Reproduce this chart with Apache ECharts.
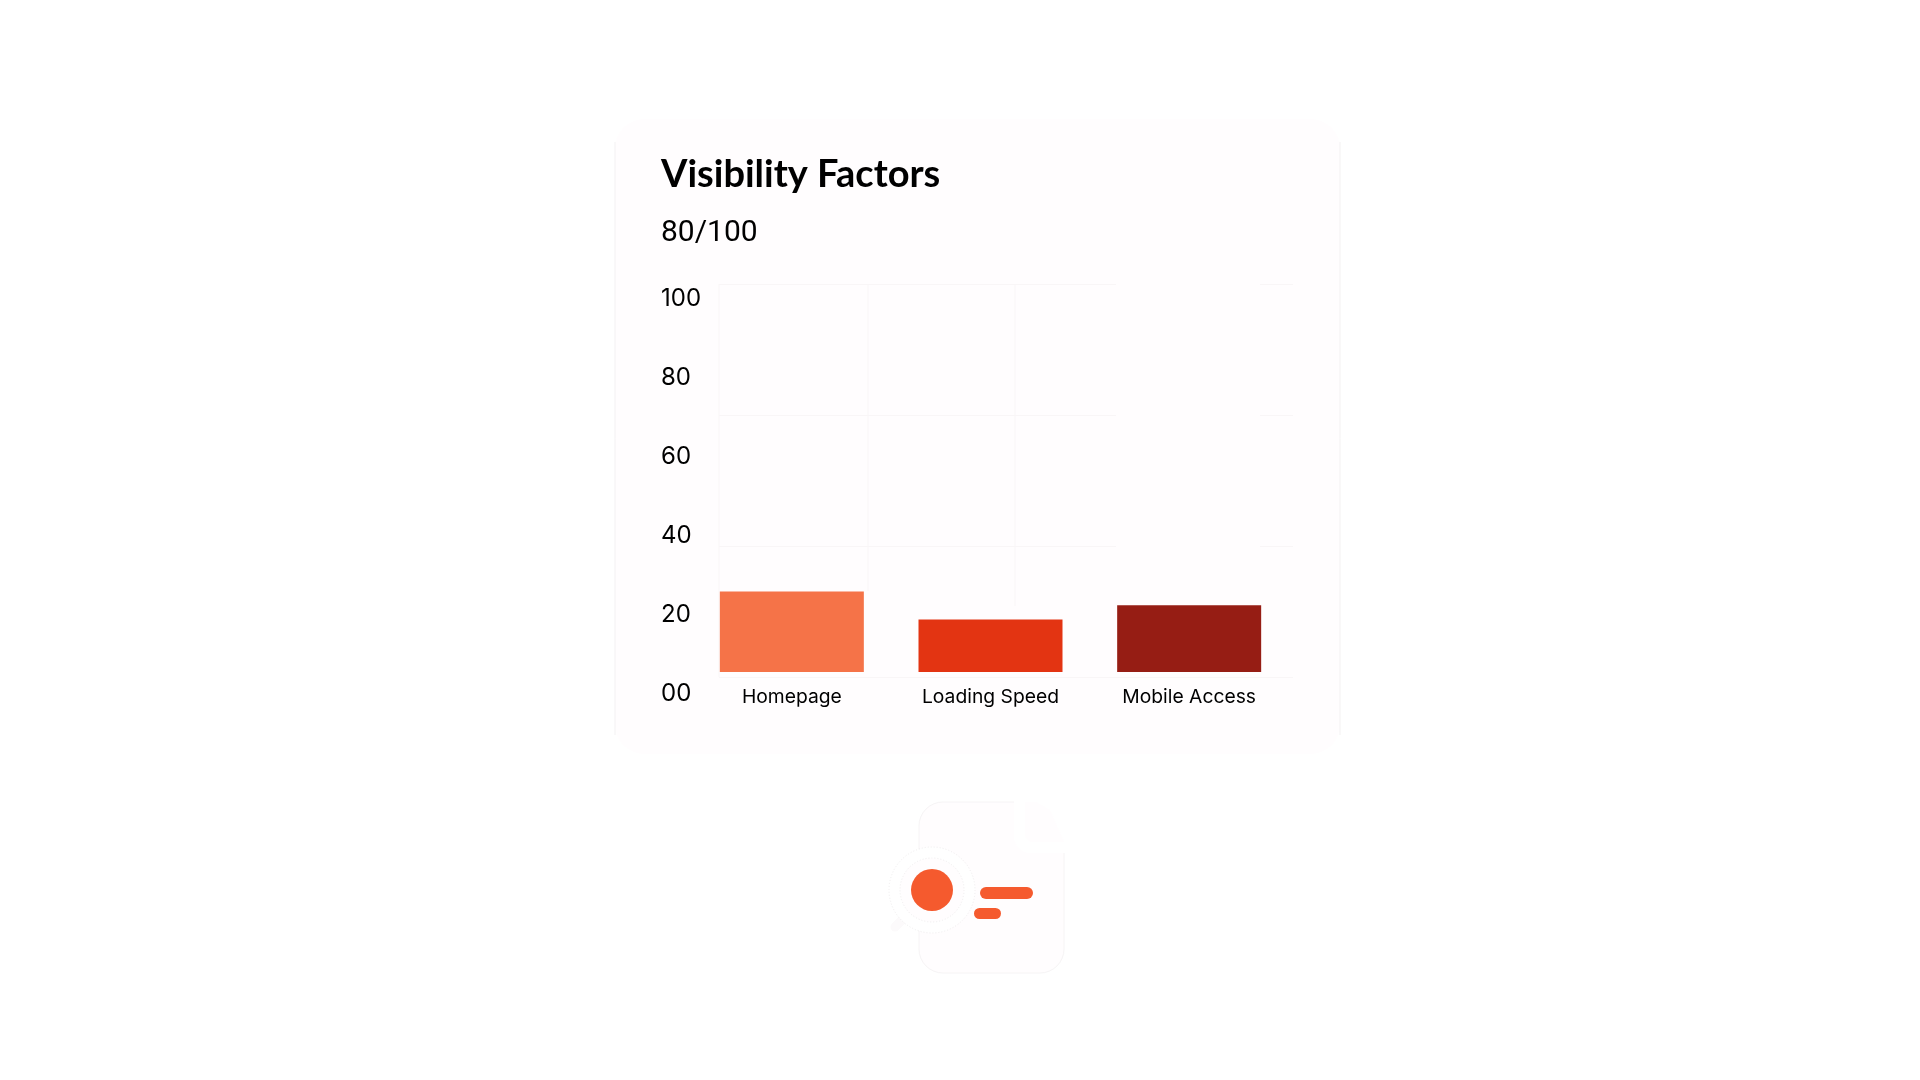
<!DOCTYPE html>
<html>
<head>
<meta charset="utf-8">
<title>Visibility Factors</title>
<script src="https://cdn.jsdelivr.net/npm/echarts@6/dist/echarts.min.js"></script>
<style>
  html, body { margin: 0; padding: 0; background: #fff; }
  #chart { width: 1920px; height: 1080px; }
</style>
</head>
<body>
<div id="chart"></div>
<script>
// values read against the printed tick labels
const categories = ['Homepage', 'Loading Speed', 'Mobile Access'];
const scores = [25.7, 18.6, 22.2];
const barColors = ['#f57348', '#e33412', '#961d14'];
const yTickLabels = ['00', '20', '40', '60', '80', '100'];

const cardFill = '#fffdfe';
const gridColor = '#f9f6f7';
const edgeColor = '#f3f1f2';
const iconOrange = '#f55a2e';

const chart = echarts.init(document.getElementById('chart'));

function vLine(x, y1, y2, color) {
  return { type: 'line', z: -1, silent: true, shape: { x1: x, y1: y1, x2: x, y2: y2 }, style: { stroke: color, lineWidth: 1 } };
}

const decorations = [
  // card
  { type: 'rect', z: -5, shape: { x: 615, y: 119, width: 725, height: 635, r: 30 }, style: { fill: cardFill } },
  vLine(615, 142, 735, edgeColor),
  vLine(1340, 142, 735, edgeColor),
  // vertical grid lines are not evenly spaced in the original
  vLine(719, 284, 677, gridColor),
  vLine(868, 284, 591, gridColor),
  vLine(1015, 284, 606, gridColor),
  // the horizontal lines break over the last column, except the base line
  { type: 'rect', z: 1, shape: { x: 1116, y: 278, width: 144, height: 320 }, style: { fill: cardFill } },

  // document + magnifier icon
  { type: 'rect', z: -5, shape: { x: 919, y: 802, width: 145, height: 171, r: 24 }, style: { fill: cardFill, stroke: '#f6f4f5', lineWidth: 1 } },
  { type: 'rect', z: -4, shape: { x: 1014, y: 796, width: 54, height: 57, r: [0, 0, 0, 16] }, style: { fill: '#fff' } },
  { type: 'polygon', z: -4, shape: { points: [[1025, 802], [1036, 802], [1050, 810], [1064, 842], [1030, 842], [1025, 836]] }, style: { fill: cardFill } },
  { type: 'line', z: -3, shape: { x1: 895, y1: 927, x2: 910, y2: 912 }, style: { stroke: '#fcfafb', lineWidth: 9, lineCap: 'round' } },
  { type: 'circle', z: -3, shape: { cx: 932, cy: 890, r: 43 }, style: { fill: '#fff', stroke: '#f0eeef', lineWidth: 1, lineDash: [1, 2] } },
  { type: 'circle', z: -2, shape: { cx: 932, cy: 890, r: 32 }, style: { fill: cardFill, stroke: '#f0eeef', lineWidth: 1, lineDash: [1, 2] } },
  { type: 'circle', z: -1, shape: { cx: 932, cy: 890, r: 21 }, style: { fill: iconOrange } },
  { type: 'rect', z: -1, shape: { x: 980, y: 887, width: 53, height: 12, r: 6 }, style: { fill: iconOrange } },
  { type: 'rect', z: -1, shape: { x: 974, y: 908, width: 27, height: 11, r: 5.5 }, style: { fill: iconOrange } }
];

const hidden = { show: false };

const option = {
  animation: false,
  backgroundColor: '#fff',
  textStyle: { fontFamily: 'Inter' },
  title: [
    { text: 'Visibility Factors', left: 661, top: 156, padding: 0,
      textStyle: { fontFamily: 'Lato', fontWeight: 700, fontSize: 38, color: '#000' } },
    { text: '80/100', left: 661, top: 218, padding: 0,
      textStyle: { fontFamily: 'Roboto', fontWeight: 400, fontSize: 30, color: '#000' } }
  ],
  graphic: { elements: decorations },
  grid: [
    // faint background lines
    { left: 719, width: 574, top: 284, height: 393 },
    // printed scale
    { left: 719, width: 574, top: 299, height: 395 },
    // bars: same px per unit as the printed scale, but they stand a little above its zero
    { left: 692.5, width: 596, top: 298, height: 374 }
  ],
  xAxis: [
    { gridIndex: 0, type: 'category', data: [''], show: false },
    { gridIndex: 1, type: 'category', data: [''], show: false },
    { gridIndex: 2, type: 'category', data: categories,
      axisLine: hidden, axisTick: hidden,
      axisLabel: { margin: 16, fontFamily: 'Inter', fontSize: 19.3, color: '#000' } }
  ],
  yAxis: [
    { gridIndex: 0, type: 'value', min: 0, max: 3, interval: 1,
      axisLine: hidden, axisTick: hidden, axisLabel: hidden,
      splitLine: { show: true, lineStyle: { color: gridColor } } },
    { gridIndex: 1, type: 'value', min: 0, max: 100, interval: 20,
      axisLine: hidden, axisTick: hidden, splitLine: hidden,
      axisLabel: { align: 'left', margin: 58, fontFamily: 'Inter', fontSize: 24, color: '#000',
        formatter: function (v) { return yTickLabels[v / 20]; } } },
    { gridIndex: 2, type: 'value', min: 5.3, max: 100, show: false }
  ],
  series: [{
    type: 'bar',
    xAxisIndex: 2,
    yAxisIndex: 2,
    barWidth: 144,
    data: scores.map(function (v, i) {
      return { value: v, itemStyle: { color: barColors[i] } };
    })
  }]
};

chart.setOption(option);
</script>
</body>
</html>
